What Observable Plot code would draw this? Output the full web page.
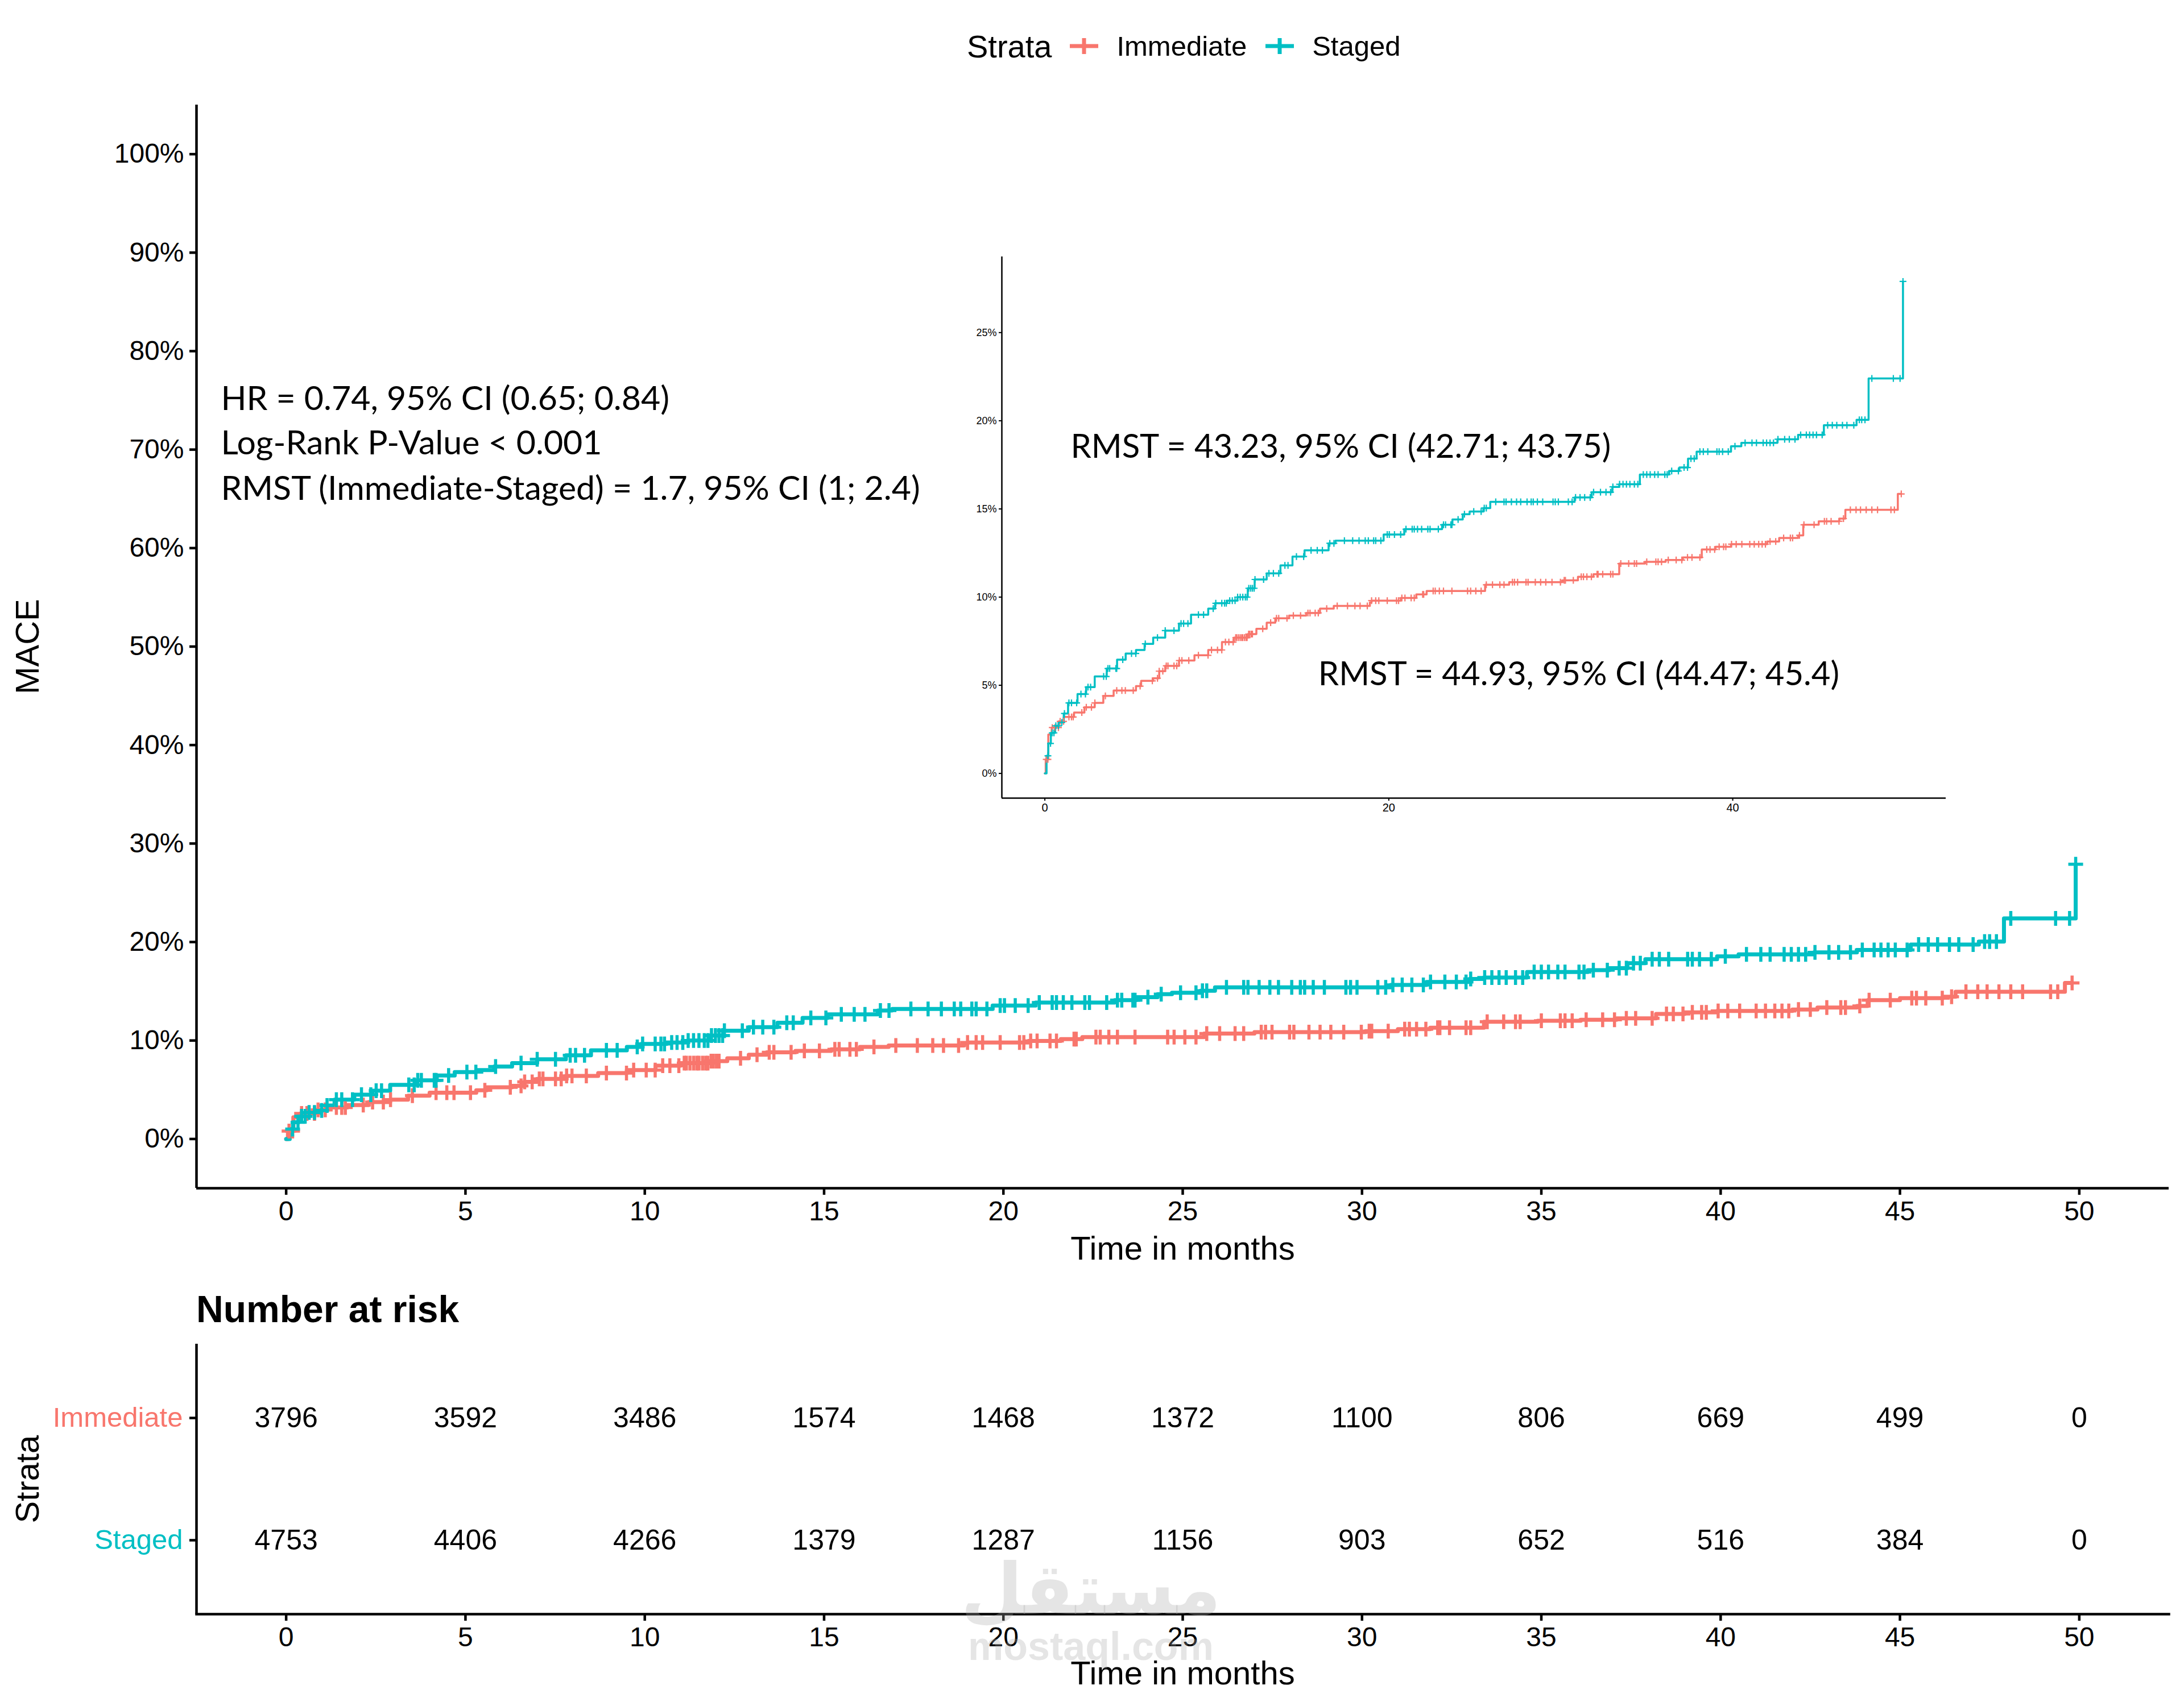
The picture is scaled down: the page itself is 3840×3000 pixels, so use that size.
<!DOCTYPE html>
<html><head><meta charset="utf-8">
<script src="https://cdn.jsdelivr.net/npm/d3@7"></script>
<script src="https://cdn.jsdelivr.net/npm/@observablehq/plot@0.6"></script>
<style>
body{margin:0;background:#fff;}
#page{position:relative;width:3840px;height:3000px;background:#fff;overflow:hidden;font-family:"Liberation Sans",Arial,sans-serif;color:#000;}
.abs{position:absolute;}
</style></head><body><div id="page"></div>
<script>
// ---------- data ----------
const strata = ["Immediate", "Staged"];
const strataColors = ["#F8766D", "#00BFC4"];
const xTicks = [0, 5, 10, 15, 20, 25, 30, 35, 40, 45, 50];
const yTicks = [0, 0.1, 0.2, 0.3, 0.4, 0.5, 0.6, 0.7, 0.8, 0.9, 1.0];
const insetXTicks = [0, 20, 40];
const insetYTicks = [0, 0.05, 0.10, 0.15, 0.20, 0.25];

// cumulative event (%) step curves
const immTime = [0,0.05,0.2,0.4,0.8,1.1,1.7,2.3,2.9,3.4,4.0,5.3,5.6,6.3,6.65,7.0,7.8,8.7,9.5,10.3,11.0,11.8,12.3,12.9,13.4,14.2,15.2,16.0,16.8,18.9,19.0,20.7,21.6,22.2,25.6,27.0,30.1,31.0,31.9,33.4,34.9,36.1,37.1,38.2,39.0,39.9,42.0,42.7,43.8,44.1,45.0,46.2,46.55,49.6,49.8];
const immPct  = [0,0.8,2.2,2.6,2.95,3.2,3.45,3.75,4.0,4.4,4.7,4.95,5.25,5.4,5.8,6.1,6.4,6.7,7.0,7.45,7.7,7.9,8.2,8.55,8.8,8.95,9.1,9.35,9.5,9.7,9.8,9.95,10.15,10.35,10.7,10.85,10.95,11.15,11.3,11.9,12.0,12.1,12.25,12.7,12.85,13.0,13.15,13.35,13.5,14.1,14.3,14.45,14.95,15.85,15.85];
const stgTime = [0,0.1,0.2,0.35,0.6,0.8,1.1,1.35,1.9,2.4,2.9,3.6,4.2,4.7,5.3,5.8,6.3,7.0,7.8,8.5,9.5,9.9,10.6,11.2,11.8,12.2,12.9,13.7,14.4,15.1,16.5,16.9,19.7,20.9,23.1,23.7,24.3,24.7,25.5,25.9,30.8,31.8,33.0,33.4,34.6,36.3,36.9,37.4,37.9,39.9,40.5,42.6,43.8,45.3,47.2,47.9,49.9];
const stgPct  = [0,1.0,1.7,2.3,2.7,2.9,3.4,4.0,4.5,4.9,5.5,5.95,6.45,6.8,7.0,7.35,7.7,8.1,8.5,9.0,9.35,9.65,9.8,10.0,10.5,11.0,11.35,11.8,12.3,12.65,13.05,13.2,13.55,13.85,14.1,14.4,14.7,14.85,15.05,15.4,15.65,15.95,16.25,16.4,16.95,17.15,17.35,17.85,18.25,18.55,18.75,18.95,19.2,19.75,20.05,22.4,27.9];

// censoring times
const immCensor = [0.08,0.18,0.43,0.58,0.79,0.89,1.09,1.4,1.55,1.65,2.15,2.41,2.71,2.91,3.52,4.18,4.48,4.68,5.14,5.54,6.25,6.55,6.65,6.86,7.06,7.16,7.51,7.67,7.82,7.97,8.37,8.93,9.49,9.69,10.04,10.29,10.5,10.7,10.95,11.1,11.16,11.26,11.36,11.45,11.51,11.61,11.7,11.76,11.85,11.91,12.0,12.07,12.67,13.13,13.47,13.6,14.08,14.45,14.87,15.3,15.42,15.72,15.9,16.39,17.0,17.6,18.03,18.33,18.75,19.0,19.24,19.42,19.91,20.45,20.57,20.76,20.94,21.3,21.48,21.97,22.03,22.58,22.7,22.94,23.18,23.67,24.58,24.76,25.06,25.37,25.67,26.03,26.46,26.7,27.19,27.31,27.49,27.98,28.1,28.52,28.83,29.13,29.49,29.98,30.2,30.27,30.73,31.19,31.32,31.52,31.78,32.11,32.17,32.44,32.9,33.03,33.49,33.95,34.28,34.41,35.0,35.53,35.66,35.86,36.25,36.71,37.04,37.37,37.63,38.09,38.49,38.68,38.95,39.21,39.47,39.6,39.93,40.2,40.53,40.99,41.25,41.51,41.71,41.9,42.17,42.5,42.96,43.35,43.48,43.88,44.14,44.73,45.33,45.46,45.72,46.18,46.44,46.84,47.17,47.43,47.76,48.09,48.42,49.2,49.4,49.8];
const stgCensor = [0.18,0.33,0.43,0.53,0.64,0.79,0.99,1.14,1.4,1.55,1.85,2.1,2.36,2.51,2.66,3.42,3.57,3.67,3.77,4.13,4.18,4.53,5.04,5.29,5.84,6.55,7.0,7.51,7.92,8.07,8.32,8.93,9.23,9.79,9.94,10.29,10.45,10.55,10.75,10.9,11.06,11.21,11.36,11.51,11.66,11.76,11.86,11.97,12.07,12.17,12.22,12.72,13.03,13.29,13.6,13.96,14.14,14.63,15.05,15.48,15.84,16.14,16.57,16.81,17.42,17.9,18.27,18.63,18.81,19.12,19.24,19.54,19.91,20.03,20.33,20.69,21.0,21.36,21.48,21.67,21.91,22.27,22.4,22.88,23.18,23.3,23.61,23.67,24.03,24.4,24.94,25.37,25.55,25.67,26.22,26.7,26.82,27.13,27.43,27.67,28.04,28.28,28.4,28.64,28.95,29.55,29.68,29.86,30.44,30.66,30.86,31.12,31.39,31.71,31.91,32.31,32.63,32.9,33.03,33.42,33.62,33.82,34.02,34.28,34.48,34.8,35.0,35.2,35.46,35.66,36.05,36.19,36.45,36.84,37.17,37.37,37.57,37.76,38.09,38.29,38.55,39.08,39.21,39.41,39.74,40.13,40.72,41.12,41.38,41.77,41.97,42.17,42.37,42.63,43.02,43.29,43.62,43.95,44.28,44.47,44.67,44.87,45.2,45.52,45.79,46.05,46.38,46.64,47.04,47.36,47.5,47.69,48.09,49.34,49.73,49.9];

// number at risk
const riskTimes = [0, 5, 10, 15, 20, 25, 30, 35, 40, 45, 50];
const immRisk = [3796, 3592, 3486, 1574, 1468, 1372, 1100, 806, 669, 499, 0];
const stgRisk = [4753, 4406, 4266, 1379, 1287, 1156, 903, 652, 516, 384, 0];

// texts
const annotLines = ["HR = 0.74, 95% CI (0.65; 0.84)", "Log-Rank P-Value < 0.001", "RMST (Immediate-Staged) = 1.7, 95% CI (1; 2.4)"];
const rmstStaged = "RMST = 43.23, 95% CI (42.71; 43.75)";
const rmstImmediate = "RMST = 44.93, 95% CI (44.47; 45.4)";
const xTitle = "Time in months";
const yTitle = "MACE";
const legendTitle = "Strata";
const riskTitle = "Number at risk";

// ---------- derived tables ----------
function stepAt(times, vals, t) {
  let v = vals[0];
  for (let i = 0; i < times.length; i++) { if (times[i] <= t + 1e-9) v = vals[i]; else break; }
  return v;
}
const curveRows = [
  ...immTime.map((t, i) => ({strata: strata[0], time: t, value: immPct[i] / 100})),
  ...stgTime.map((t, i) => ({strata: strata[1], time: t, value: stgPct[i] / 100}))
];
const censorRows = [
  ...immCensor.map(t => ({strata: strata[0], time: t, value: stepAt(immTime, immPct, t) / 100})),
  ...stgCensor.map(t => ({strata: strata[1], time: t, value: stepAt(stgTime, stgPct, t) / 100}))
];
const riskRows = [
  ...riskTimes.map((t, i) => ({strata: strata[0], time: t, n: immRisk[i]})),
  ...riskTimes.map((t, i) => ({strata: strata[1], time: t, n: stgRisk[i]}))
];

const plusSym = {draw(ctx, size) { const r = Math.sqrt(size / Math.PI); ctx.moveTo(-r, 0); ctx.lineTo(r, 0); ctx.moveTo(0, -r); ctx.lineTo(0, r); }};
const FONT = "'Liberation Sans', Arial, sans-serif";
const ANN_FONT = "Lato, 'Open Sans', sans-serif";
const color = {domain: strata, range: strataColors};
const baseStyle = {fontFamily: FONT, color: "#000", background: "transparent", overflow: "visible", maxWidth: "none"};
const page = document.getElementById("page");
function place(el, left, top) { const d = document.createElement("div"); d.className = "abs"; d.style.left = left + "px"; d.style.top = top + "px"; d.appendChild(el); page.appendChild(d); return d; }

// ---------- main plot ----------
const xDom = [-2.5, 52.5];
const yDom = [-0.05, 1.05];
const main = Plot.plot({
  width: 3840, height: 2120,
  marginLeft: 345, marginRight: 27, marginTop: 64, marginBottom: 151,
  style: baseStyle,
  x: {domain: xDom}, y: {domain: yDom}, color,
  marks: [
    Plot.axisX({ticks: xTicks, tickSize: 12, tickPadding: 10, strokeWidth: 4.5, fontSize: 48, label: null}),
    Plot.axisY({ticks: yTicks, tickFormat: d3.format(".0%"), tickSize: 12, tickPadding: 10, strokeWidth: 4.5, fontSize: 48, label: null}),
    Plot.ruleX([xDom[0]], {strokeWidth: 4.5}),
    Plot.ruleY([yDom[0]], {strokeWidth: 4.5}),
    Plot.line(curveRows, {x: "time", y: "value", stroke: "strata", curve: "step-after", strokeWidth: 7}),
    Plot.dot(censorRows, {x: "time", y: "value", stroke: "strata", symbol: plusSym, r: 13, strokeWidth: 5.5, fill: "none"}),
    Plot.text(annotLines, {x: -1.82, y: (d, i) => [0.751, 0.706, 0.660][i], text: d => d, textAnchor: "start", fontFamily: ANN_FONT, fontSize: 59}),
    Plot.text([xTitle], {frameAnchor: "bottom", dy: 125, fontSize: 58}),
    Plot.text([yTitle], {frameAnchor: "left", textAnchor: "middle", dx: -296, rotate: -90, fontSize: 58})
  ]
});
place(main, 0, 120);

// ---------- inset ----------
const ixDom = [-2.5, 52.4];
const iyDom = [-0.014, 0.293];
const inset = Plot.plot({
  width: 1760, height: 1040,
  marginLeft: 61, marginRight: 39, marginTop: 31, marginBottom: 57,
  style: baseStyle,
  x: {domain: ixDom}, y: {domain: iyDom}, color,
  marks: [
    Plot.axisX({ticks: insetXTicks, tickSize: 5, tickPadding: 4, strokeWidth: 2, fontSize: 20, label: null}),
    Plot.axisY({ticks: insetYTicks, tickFormat: d3.format(".0%"), tickSize: 5, tickPadding: 4, strokeWidth: 2, fontSize: 18, label: null}),
    Plot.ruleX([ixDom[0]], {strokeWidth: 2.5}),
    Plot.ruleY([iyDom[0]], {strokeWidth: 2.5}),
    Plot.line(curveRows, {x: "time", y: "value", stroke: "strata", curve: "step-after", strokeWidth: 3.5}),
    Plot.dot(censorRows, {x: "time", y: "value", stroke: "strata", symbol: plusSym, r: 6, strokeWidth: 2.2, fill: "none"}),
    Plot.text([rmstStaged], {x: 1.5, y: 0.185, textAnchor: "start", fontFamily: ANN_FONT, fontSize: 58}),
    Plot.text([rmstImmediate], {x: 15.9, y: 0.056, textAnchor: "start", fontFamily: ANN_FONT, fontSize: 58})
  ]
});
place(inset, 1700, 420);

// ---------- legend ----------
const legend = document.createElement("div");
legend.style.cssText = "display:flex;align-items:center;height:80px;font-family:" + FONT + ";";
const lt = document.createElement("span"); lt.textContent = legendTitle; lt.style.cssText = "font-size:56px;margin-right:32px;";
legend.appendChild(lt);
strata.forEach((s, i) => {
  const ns = "http://www.w3.org/2000/svg";
  const sv = document.createElementNS(ns, "svg"); sv.setAttribute("width", 50); sv.setAttribute("height", 30);
  const h = document.createElementNS(ns, "line"); h.setAttribute("x1", 0); h.setAttribute("x2", 50); h.setAttribute("y1", 15); h.setAttribute("y2", 15);
  const v = document.createElementNS(ns, "line"); v.setAttribute("x1", 25); v.setAttribute("x2", 25); v.setAttribute("y1", 1); v.setAttribute("y2", 29);
  [h, v].forEach(l => { l.setAttribute("stroke", strataColors[i]); l.setAttribute("stroke-width", 7); sv.appendChild(l); });
  sv.style.marginRight = "32px";
  legend.appendChild(sv);
  const t = document.createElement("span"); t.textContent = s; t.style.cssText = "font-size:49px;margin-right:33px;";
  legend.appendChild(t);
});
place(legend, 1700, 41);

// ---------- risk table ----------
const risk = Plot.plot({
  width: 3840, height: 660,
  marginLeft: 345, marginRight: 27, marginTop: 23, marginBottom: 162,
  style: baseStyle,
  x: {domain: xDom},
  y: {type: "point", domain: strata, padding: 0.6},
  color,
  marks: [
    Plot.axisX({ticks: xTicks, tickSize: 12, tickPadding: 10, strokeWidth: 4.5, fontSize: 48, label: null}),
    Plot.axisY({tickSize: 12, strokeWidth: 4.5, tickFormat: () => "", label: null}),
    Plot.ruleX([xDom[0]], {strokeWidth: 4.5}),
    Plot.frame({anchor: "bottom", strokeWidth: 4.5}),
    Plot.text(strata, {y: d => d, text: d => d, fill: d => d, frameAnchor: "left", textAnchor: "end", dx: -24, fontSize: 49}),
    Plot.text(riskRows, {x: "time", y: "strata", text: d => String(d.n), fontSize: 50}),
    Plot.text([xTitle], {frameAnchor: "bottom", dy: 123, fontSize: 58}),
    Plot.text([legendTitle], {frameAnchor: "left", textAnchor: "middle", dx: -296, rotate: -90, fontSize: 58})
  ]
});
place(risk, 0, 2340);

const rt = document.createElement("div");
rt.textContent = riskTitle;
rt.style.cssText = "font-family:" + FONT + ";font-weight:bold;font-size:66px;line-height:80px;";
place(rt, 345, 2262);

// watermark
const wm = document.createElement("div");
wm.style.cssText = "text-align:center;color:rgba(170,170,170,0.3);font-weight:bold;width:600px;";
wm.innerHTML = "<div style=\"font-family:'DejaVu Sans';font-size:125px;line-height:130px;\">مستقل</div><div style=\"font-family:'Liberation Sans';font-size:70px;line-height:70px;\">mostaql.com</div>";
place(wm, 1618, 2730);
</script></body></html>
